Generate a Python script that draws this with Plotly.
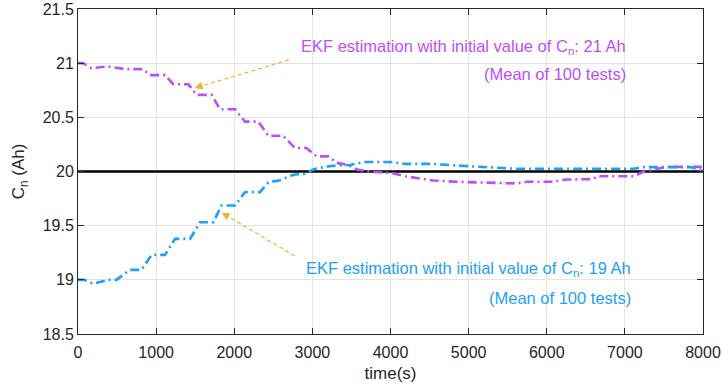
import plotly.graph_objects as go

# Mean EKF capacity estimate, initial value 21 Ah
t_21 = [0, 64, 171, 384, 598, 833, 919, 1114, 1220, 1412, 1519, 1712, 1818, 2010, 2138, 2308,
        2436, 2626, 2776, 2925, 3053, 3202, 3310, 3457, 3585, 3800, 4000, 4187, 4545, 4849,
        5617, 5745, 6043, 6257, 6598, 6641, 7110, 7238, 7537, 8000]
cn_21 = [21.0, 21.0, 20.954, 20.97, 20.945, 20.945, 20.89, 20.89, 20.806, 20.806, 20.707, 20.707,
         20.575, 20.575, 20.46, 20.46, 20.33, 20.33, 20.217, 20.217, 20.14, 20.14, 20.08, 20.06,
         20.015, 19.995, 19.987, 19.956, 19.917, 19.905, 19.89, 19.905, 19.905, 19.926, 19.93,
         19.956, 19.956, 19.997, 20.043, 20.043]

# Mean EKF capacity estimate, initial value 19 Ah
t_19 = [0, 86, 193, 384, 493, 664, 813, 941, 1114, 1242, 1434, 1562, 1732, 1838, 2010, 2138,
        2330, 2436, 2586, 2756, 2900, 3034, 3226, 3482, 3653, 4000, 4187, 4545, 4977, 5404,
        5617, 6043, 7110, 7238, 7840, 8000]
cn_19 = [19.0, 19.0, 18.963, 19.0, 19.0, 19.092, 19.092, 19.23, 19.23, 19.378, 19.378, 19.532,
         19.532, 19.686, 19.686, 19.81, 19.81, 19.9, 19.92, 19.97, 19.98, 20.025, 20.05, 20.06,
         20.087, 20.088, 20.07, 20.07, 20.05, 20.035, 20.025, 20.025, 20.025, 20.04, 20.04, 20.01]

# True capacity
t_true = [0, 8000]
cn_true = [20, 20]

purple = "#BD4FF7"
blue = "#1EA0FA"
orange = "#F2B130"
dashdot = "9px,4px,2px,4px"
FONT = "Liberation Sans, Arial, sans-serif"

fig = go.Figure()
fig.add_trace(go.Scatter(x=t_true, y=cn_true, mode="lines",
                         line=dict(color="black", width=2.6), showlegend=False))
fig.add_trace(go.Scatter(x=t_21, y=cn_21, mode="lines",
                         line=dict(color=purple, width=2.6, dash=dashdot), showlegend=False))
fig.add_trace(go.Scatter(x=t_19, y=cn_19, mode="lines",
                         line=dict(color=blue, width=2.6, dash=dashdot), showlegend=False))

font_txt = dict(family=FONT, size=16.5)

# dashed arrows: shaft as a dashed shape, head as a tiny annotation arrow
arrows = [((2698, 21.03), (1494, 20.77)), ((2775, 19.22), (1840, 19.62))]
for (tx, ty), (hx, hy) in arrows:
    fig.add_shape(type="line", x0=tx, y0=ty, x1=hx + (tx - hx) * 0.06, y1=hy + (ty - hy) * 0.06,
                  xref="x", yref="y", line=dict(color=orange, width=1.2, dash="4px,3px"))
    fig.add_annotation(x=hx, y=hy, ax=hx + (tx - hx) * 0.08, ay=hy + (ty - hy) * 0.08,
                       xref="x", yref="y", axref="x", ayref="y", text="", showarrow=True,
                       arrowhead=2, arrowsize=1.3, arrowwidth=1.2, arrowcolor=orange)

# labels
fig.add_annotation(x=7045, y=21.15, xref="x", yref="y", xanchor="right", yanchor="middle",
                   text="EKF estimation with initial value of C<sub>n</sub>: 21 Ah",
                   showarrow=False, font=dict(color=purple, **font_txt))
fig.add_annotation(x=7045, y=20.9, xref="x", yref="y", xanchor="right", yanchor="middle",
                   text="(Mean of 100 tests)", showarrow=False, font=dict(color=purple, **font_txt))
fig.add_annotation(x=7105, y=19.1, xref="x", yref="y", xanchor="right", yanchor="middle",
                   text="EKF estimation with initial value of C<sub>n</sub>: 19 Ah",
                   showarrow=False, font=dict(color=blue, **font_txt))
fig.add_annotation(x=7105, y=18.83, xref="x", yref="y", xanchor="right", yanchor="middle",
                   text="(Mean of 100 tests)", showarrow=False, font=dict(color=blue, **font_txt))

axis_common = dict(showgrid=True, gridcolor="#E3E3E3", gridwidth=1, showline=True,
                   linecolor="#262626", linewidth=1, mirror="ticks", ticks="inside",
                   ticklen=6, tickcolor="#262626", zeroline=False, automargin=False,
                   tickfont=dict(family=FONT, size=16, color="#262626"),
                   title_font=dict(family=FONT, size=17, color="#262626"))

fig.update_xaxes(range=[0, 8000], tick0=0, dtick=1000, title_text="time(s)", title_standoff=6,
                 ticklabelstandoff=4, **axis_common)
fig.update_yaxes(range=[18.5, 21.5], tick0=18.5, dtick=0.5, title_text="C<sub>n</sub> (Ah)",
                 title_standoff=13, **axis_common)

fig.update_layout(width=723, height=389, margin=dict(l=78, r=20, t=9, b=55),
                  plot_bgcolor="white", paper_bgcolor="white")

# page body has a default 8px margin; remove it so the figure fills the window
fig.write_html("out.html", config={"displayModeBar": False},
               post_script="document.body.style.margin='0';")
